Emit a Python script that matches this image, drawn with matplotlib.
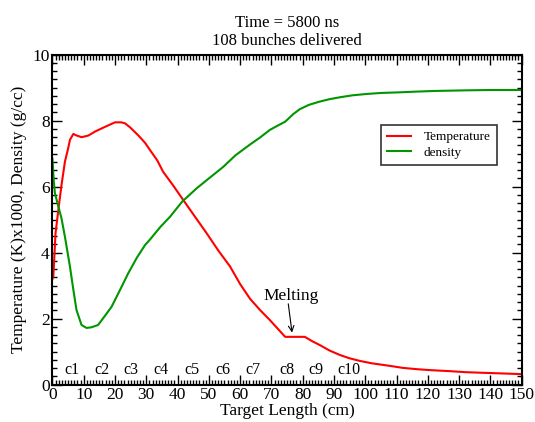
import matplotlib
matplotlib.use("Agg")
import matplotlib.pyplot as plt
from matplotlib.ticker import MultipleLocator

plt.rcParams['font.family'] = ['Liberation Serif', 'DejaVu Serif']

# Temperature (K x1000) along target length (cm)
temp_x = [0, 0.3, 1.0, 1.9, 2.9, 4.0, 5.0, 5.6, 6.7, 7.5, 9.3, 11.5, 13.6, 16.5, 20, 22, 23.2, 24.8,
          27.5, 29.6, 31.2, 33.5, 35.4, 38.5, 41.8, 45.5, 49.3, 53, 56.8, 60, 63.2, 66.5, 69.5,
          72, 74.4, 77.5, 80.7, 83, 85.5, 88.5, 91.9, 95, 98.3, 102, 107.9, 112, 116.5,
          121, 127.1, 132, 137.8, 144, 150]
temp_y = [3.2, 3.3, 4.6, 5.3, 6.05, 6.76, 7.15, 7.42, 7.6, 7.56, 7.5, 7.55, 7.67, 7.8, 7.95, 7.95, 7.92, 7.8,
          7.55, 7.33, 7.11, 6.8, 6.45, 6.05, 5.6, 5.1, 4.59, 4.07, 3.58, 3.05, 2.6, 2.25, 1.96,
          1.7, 1.45, 1.45, 1.45, 1.32, 1.2, 1.04, 0.9, 0.8, 0.72, 0.65, 0.57, 0.51, 0.47,
          0.44, 0.41, 0.38, 0.36, 0.34, 0.32]

# Density (g/cc) along target length (cm)
dens_x = [0, 0.4, 0.8, 1.9, 2.9, 4.0, 5.6, 6.7, 7.7, 9.3, 10.9, 12.5, 14.6, 16.5, 18.9, 21.5, 24.2,
          27, 29.6, 31.2, 34.5, 37.6, 41.5, 46.1, 50, 54.6, 58.5, 63.2, 66.5, 69.5, 72, 74.4,
          77, 79.1, 82, 85.5, 88.5, 91.9, 96, 100.5, 105, 111.1, 116, 121.8, 127, 132.5, 140, 150]
dens_y = [6.85, 6.2, 5.8, 5.4, 5.04, 4.48, 3.58, 2.87, 2.26, 1.81, 1.72, 1.74, 1.81, 2.05, 2.36, 2.85, 3.37,
          3.85, 4.23, 4.4, 4.78, 5.09, 5.55, 5.95, 6.25, 6.6, 6.95, 7.28, 7.5, 7.72, 7.85, 7.97,
          8.2, 8.35, 8.48, 8.58, 8.65, 8.71, 8.77, 8.81, 8.84, 8.86, 8.88, 8.9, 8.91, 8.92, 8.93, 8.93]

# Cell labels
cell_labels = ['c1', 'c2', 'c3', 'c4', 'c5', 'c6', 'c7', 'c8', 'c9', 'c10']
cell_x = [6.1, 15.7, 25.0, 34.6, 44.5, 54.4, 64.2, 74.9, 84.3, 94.9]

fig = plt.figure(figsize=(5.35, 4.22), dpi=100)
ax = fig.add_axes([0.098, 0.0884, 0.877, 0.782])

ax.plot(temp_x, temp_y, color='#ff0000', lw=1.5, label='Temperature')
ax.plot(dens_x, dens_y, color='#009600', lw=1.5, label='density')

ax.set_xlim(0, 150)
ax.set_ylim(0, 10)
ax.xaxis.set_major_locator(MultipleLocator(10))
ax.xaxis.set_minor_locator(MultipleLocator(1))
ax.yaxis.set_major_locator(MultipleLocator(2))
ax.yaxis.set_minor_locator(MultipleLocator(0.25))
ax.tick_params(which='both', direction='in', top=True, right=True, width=1.0,
               labelsize=12.5, pad=2)
ax.tick_params(which='major', length=7)
ax.tick_params(which='minor', length=3.5)
for s in ax.spines.values():
    s.set_linewidth(1.5)

ax.set_xlabel('Target Length (cm)', fontsize=12.5, labelpad=0)
ax.set_ylabel('Temperature (K)x1000, Density (g/cc)', fontsize=12.5, labelpad=4)
ax.set_title('Time = 5800 ns\n108 bunches delivered', fontsize=12, linespacing=1.2, pad=7)

for lab, cx in zip(cell_labels, cell_x):
    ax.text(cx, 0.45, lab, fontsize=11.5, ha='center', va='center')

ax.text(76.3, 2.7, 'Melting', fontsize=12.5, ha='center', va='center')
ax.annotate('', xy=(76.6, 1.58), xytext=(75.4, 2.45),
            arrowprops=dict(arrowstyle='->', color='black', lw=0.8, shrinkA=0, shrinkB=0))

leg = ax.legend(loc='upper left', bbox_to_anchor=(0.70, 0.787), fontsize=9.5,
                frameon=True, fancybox=False, handlelength=1.8, borderpad=0.45,
                labelspacing=0.25, handletextpad=1.0, borderaxespad=0)
leg.get_frame().set_edgecolor('black')
leg.get_frame().set_linewidth(1.2)

fig.savefig('out.png', dpi=100)
